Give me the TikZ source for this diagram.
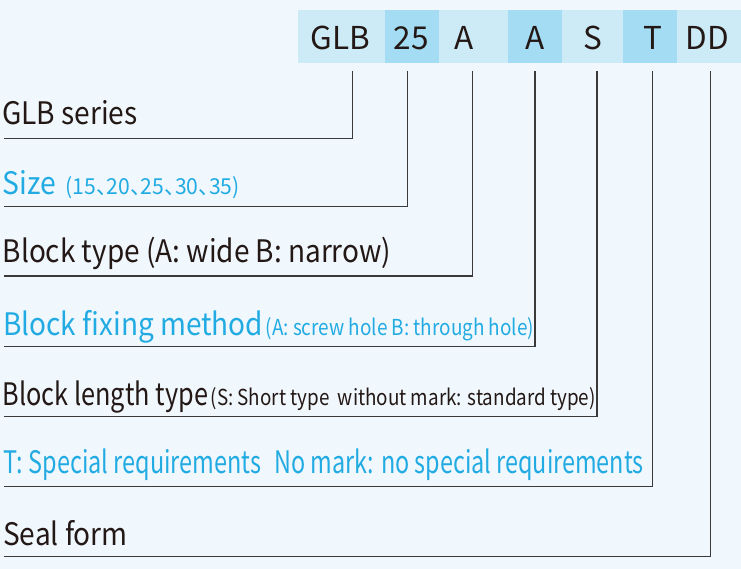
\documentclass[tikz,border=0pt]{standalone}
\usepackage{fontspec}
\setmainfont{Noto Sans CJK SC}
\usepackage{graphicx}
\definecolor{bg}{HTML}{F0F8FE}
\definecolor{boxlight}{HTML}{CDEBF7}
\definecolor{boxdark}{HTML}{A3DCF3}
\definecolor{ink}{HTML}{231815}
\definecolor{blue}{HTML}{22ABE2}
\definecolor{rule}{HTML}{3A3A3A}
\newcommand\dun{\makebox[0.5em][l]{、}}
\newcommand\fitw[2]{\resizebox{#1pt}{\height}{#2}}
\begin{document}
\begin{tikzpicture}[x=1pt,y=-1pt,
  cell/.style={anchor=north west, inner sep=0, outer sep=0, minimum height=53.3pt, draw=none},
  lightcell/.style={cell, fill=boxlight},
  darkcell/.style={cell, fill=boxdark},
  code/.style={anchor=base, inner sep=0, text=ink, font=\fontsize{31.5}{32}\selectfont},
  big/.style={anchor=base west, inner sep=0, font=\fontsize{31}{32}\selectfont},
  small/.style={anchor=base west, inner sep=0, font=\fontsize{22}{24}\selectfont},
  black/.style={text=ink},
  bluet/.style={text=blue},
  leader/.style={draw=rule, line width=1.1pt}]
\fill[bg] (0,0) rectangle (741,569);
\useasboundingbox (0,0) rectangle (741,569);
% code cells
\node[lightcell, minimum width=87pt] (c1) at (298,10) {};
\node[darkcell,  minimum width=54pt] (c2) at (385,10) {};
\node[lightcell, minimum width=69pt] (c3) at (439,10) {};
\node[darkcell,  minimum width=54pt] (c4) at (508,10) {};
\node[lightcell, minimum width=61pt] (c5) at (562,10) {};
\node[darkcell,  minimum width=54pt] (c6) at (623,10) {};
\node[lightcell, minimum width=64pt] (c7) at (677,10) {};
\node[code] (t1) at (340.5,49.3) {GLB};
\node[code] (t2) at (411.3,49.3) {25};
\node[code] (t3) at (464,49.3) {A};
\node[code] (t4) at (535.3,49.3) {A};
\node[code] (t5) at (593,49.3) {S};
\node[code] (t6) at (652.7,49.3) {T};
\node[code] (t7) at (707.5,49.3) {DD};
% labels
\node[big,black] (l1) at (2,125) {\fitw{135.5}{GLB series}};
\node[big,bluet] (l2) at (2.5,195) {\fitw{53.5}{Size}};
\node[small,bluet] (l2b) at (65.5,195) {\fitw{174}{(15\dun20\dun25\dun30\dun35)}};
\node[big,black] (l3) at (2.5,263) {\fitw{388.5}{Block type (A: wide B: narrow)}};
\node[big,bluet] (l4) at (3,335) {\fitw{260}{Block fixing method}};
\node[small,bluet] (l4b) at (265.5,335) {\fitw{268.5}{(A: screw hole B: through hole)}};
\node[big,black] (l5) at (2.5,405) {\fitw{205.5}{Block length type}};
\node[small,black] (l5b) at (210.5,405) {\fitw{385}{(S: Short type\ \ without mark: standard type)}};
\node[big,bluet] (l6) at (3,473.3) {\fitw{258}{T: Special requirements}};
\node[big,bluet] (l6b) at (274,473.3) {\fitw{369.5}{No mark: no special requirements}};
\node[big,black] (l7) at (3,545) {\fitw{124.5}{Seal form}};
% leader coordinates
\coordinate (s1) at (3.5,138.5);  \coordinate (e1) at (352.5,71);
\coordinate (s2) at (3.5,206.8);  \coordinate (e2) at (407.5,71);
\coordinate (s3) at (3.5,276);    \coordinate (e3) at (472.7,71);
\coordinate (s4) at (3.5,346.7);  \coordinate (e4) at (535,71);
\coordinate (s5) at (3.5,416.7);  \coordinate (e5) at (597,71);
\coordinate (s6) at (3.5,486.7);  \coordinate (e6) at (652.3,71);
\coordinate (s7) at (3.5,556.5);  \coordinate (e7) at (710.5,71);
\foreach \i in {1,...,7}{
  \draw[leader] (s\i) -| (e\i);
}
\end{tikzpicture}
\end{document}
